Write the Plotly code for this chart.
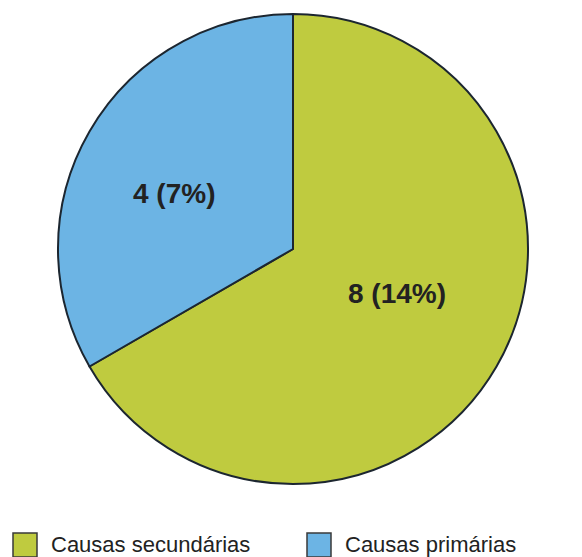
import plotly.graph_objects as go

categories = ["Causas secundárias", "Causas primárias"]
values = [8, 4]
slice_text = ["8 (14%)", "4 (7%)"]
colors = ["#BFCB3F", "#6CB4E4"]

W, H = 582, 557

fig = go.Figure()
fig.add_trace(go.Pie(
    labels=categories,
    values=values,
    textinfo="none",
    marker=dict(colors=colors, line=dict(color="#1c2630", width=2)),
    sort=False,
    direction="clockwise",
    rotation=0,
    hole=0,
    domain=dict(x=[58 / W, 528 / W], y=[(H - 484) / H, (H - 14) / H]),
    showlegend=False,
    hoverinfo="label+value",
))

# slice labels (pixel centres)
label_pos = [(397, 293), (174, 193)]
for txt, (px, py) in zip(slice_text, label_pos):
    fig.add_annotation(xref="paper", yref="paper", x=px / W, y=(H - py) / H,
                       text=f"<b>{txt}</b>", showarrow=False,
                       xanchor="center", yanchor="middle",
                       font=dict(family="Liberation Sans, Arial, sans-serif", size=28, color="#222222"))

# custom legend
legend_x = [13, 307]
for i, (cat, col) in enumerate(zip(categories, colors)):
    x0 = legend_x[i]
    fig.add_shape(type="rect", xref="paper", yref="paper",
                  x0=x0 / W, x1=(x0 + 24) / W, y0=(H - 557) / H, y1=(H - 533) / H,
                  fillcolor=col, line=dict(color="#3a3a3a", width=1.5))
    fig.add_annotation(xref="paper", yref="paper", x=(x0 + 36) / W, y=(H - 544) / H,
                       text=cat, showarrow=False, xanchor="left", yanchor="middle",
                       font=dict(family="Liberation Sans, Arial, sans-serif", size=22, color="#222222"))

fig.update_layout(
    width=W, height=H,
    margin=dict(l=0, r=0, t=0, b=0),
    paper_bgcolor="white", plot_bgcolor="white",
)
fig.write_html("out.html")
